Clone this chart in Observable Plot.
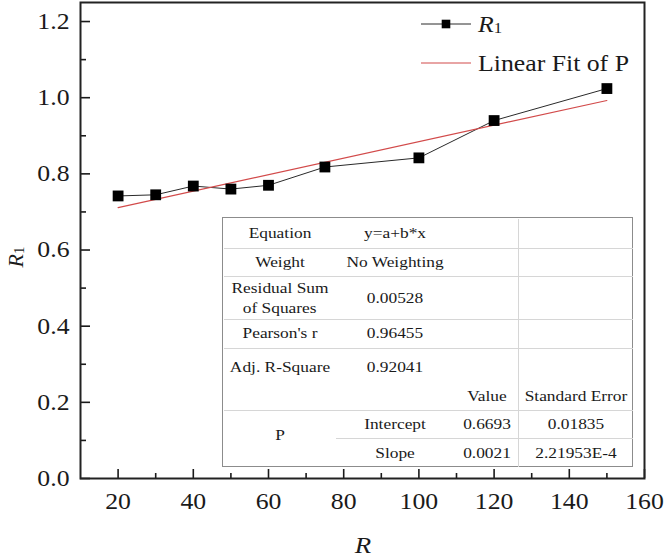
<!DOCTYPE html>
<html><head><meta charset="utf-8">
<script src="https://cdn.jsdelivr.net/npm/d3@7"></script>
<script src="https://cdn.jsdelivr.net/npm/@observablehq/plot@0.6"></script>
<style>
body{margin:0;background:#fff;}
#wrap{position:relative;width:664px;height:559px;font-family:"Liberation Serif","Times New Roman",serif;}
#tbl{position:absolute;left:222px;top:217px;width:411px;height:250px;border:1.5px solid #8c8c8c;box-sizing:border-box;background:#fff;}
.hl,.vl{position:absolute;background:#d6d6d6;}
.cell{position:absolute;transform:translate(-50%,-50%);white-space:nowrap;font-size:15.5px;color:#1a1a1a;text-align:center;line-height:20px;}
.cell span{display:inline-block;transform:scaleX(1.12);}
</style></head><body><div id="wrap"></div>
<script>
// ---- data ----
const R = [20, 30, 40, 50, 60, 75, 100, 120, 150];
const R1 = [0.742, 0.745, 0.768, 0.760, 0.770, 0.818, 0.842, 0.940, 1.024];
const xMajor = [20, 40, 60, 80, 100, 120, 140, 160];
const xMinor = [30, 50, 70, 90, 110, 130, 150];
const yMajor = [0, 0.2, 0.4, 0.6, 0.8, 1.0, 1.2];
const yMinor = [0.1, 0.3, 0.5, 0.7, 0.9, 1.1];
const legendLabels = ["R", "Linear Fit of P"];
const statLabels = ["Equation", "Weight", "Residual Sum\nof Squares", "Pearson's r", "Adj. R-Square"];
const statValues = ["y=a+b*x", "No Weighting", "0.00528", "0.96455", "0.92041"];
const paramHeader = ["Value", "Standard Error"];
const paramGroup = "P";
const paramNames = ["Intercept", "Slope"];
const paramValues = ["0.6693", "0.0021"];
const paramErrors = ["0.01835", "2.21953E-4"];

const data = R.map((r, i) => ({R: r, R1: R1[i]}));
const STRETCH = 1.12;
const FONT = '"Liberation Serif","Times New Roman",serif';

const chart = Plot.plot({
  width: 664, height: 559,
  marginLeft: 80, marginRight: 20, marginTop: 2, marginBottom: 81,
  style: {fontFamily: FONT, color: "#1a1a1a", background: "#fff"},
  x: {domain: [10, 160]},
  y: {domain: [0, 1.25]},
  marks: [
    Plot.axisX({ticks: xMajor, tickSize: 0, tickPadding: 14, fontSize: 23, label: null, tickFormat: d3.format("d")}),
    // inward ticks: draw the outward tick shifted back inside the frame
    Plot.axisX({ticks: xMajor, tickSize: 9, dy: -9, text: null, label: null, strokeWidth: 1.6}),
    Plot.axisX({ticks: xMinor, tickSize: 5, dy: -5, text: null, label: null, strokeWidth: 1.6}),
    Plot.axisY({ticks: yMajor, tickSize: 0, tickPadding: 11, fontSize: 23, label: null, tickFormat: d3.format(".1f")}),
    Plot.axisY({ticks: yMajor, tickSize: 10, dx: 10, text: null, label: null, strokeWidth: 1.6}),
    Plot.axisY({ticks: yMinor, tickSize: 6, dx: 6, text: null, label: null, strokeWidth: 1.6}),
    Plot.line(data, {x: "R", y: "R1", stroke: "#2a2a2a", strokeWidth: 1}),
    Plot.linearRegressionY(data, {x: "R", y: "R1", stroke: "#d24a4a", strokeWidth: 1.2, ci: 0}),
    Plot.dot(data, {x: "R", y: "R1", symbol: "square", r: 6.1, fill: "#000", stroke: null}),
    Plot.frame({stroke: "#222", strokeWidth: 2})
  ]
});

const wrap = document.getElementById("wrap");
wrap.appendChild(chart);
const svg = d3.select(chart);

// legend
const lg = svg.append("g").attr("font-family", FONT).attr("fill", "#1a1a1a").attr("text-anchor", "start");
lg.append("line").attr("x1", 421).attr("x2", 471).attr("y1", 24).attr("y2", 24).attr("stroke", "#2a2a2a").attr("stroke-width", 1);
lg.append("rect").attr("x", 441.7).attr("y", 19.7).attr("width", 8.6).attr("height", 8.6).attr("fill", "#000");
const t1 = lg.append("text").attr("x", 478).attr("y", 32).attr("font-size", 23).attr("text-anchor", "start");
t1.append("tspan").attr("font-style", "italic").text(legendLabels[0]);
t1.append("tspan").attr("font-size", 15).attr("dy", 1).text("1");
lg.append("line").attr("x1", 421).attr("x2", 471).attr("y1", 63).attr("y2", 63).attr("stroke", "#d24a4a").attr("stroke-width", 1.2);
lg.append("text").attr("x", 478).attr("y", 71).attr("font-size", 23).attr("text-anchor", "start").text(legendLabels[1]);

// axis titles
svg.append("text").attr("x", 363).attr("y", 553).attr("text-anchor", "middle")
  .attr("font-family", FONT).attr("font-size", 24).attr("font-style", "italic").attr("fill", "#1a1a1a").text("R");
const yt = svg.append("text").attr("class", "nostretch").attr("transform", "translate(23,257) rotate(-90)")
  .attr("text-anchor", "middle").attr("font-family", FONT).attr("font-size", 22).attr("fill", "#1a1a1a");
yt.append("tspan").attr("font-style", "italic").text("R");
yt.append("tspan").attr("font-size", 15).attr("dy", 1).text("1");

// horizontal stretch of svg text to match reference proportions
svg.selectAll("text").each(function() {
  if (this.classList.contains("nostretch")) return;
  const L = this.getComputedTextLength();
  if (L > 0) {
    this.setAttribute("textLength", L * STRETCH);
    this.setAttribute("lengthAdjust", "spacingAndGlyphs");
  }
});

// statistics table (HTML overlay)
const tbl = document.createElement("div");
tbl.id = "tbl";
wrap.appendChild(tbl);
const L0 = 222, T0 = 217;
function hline(y, x1, x2) {
  const d = document.createElement("div"); d.className = "hl";
  d.style.left = (x1 - L0) + "px"; d.style.top = (y - T0 - 0.5) + "px";
  d.style.width = (x2 - x1) + "px"; d.style.height = "1px"; tbl.appendChild(d);
}
function vline(x, y1, y2) {
  const d = document.createElement("div"); d.className = "vl";
  d.style.left = (x - L0 - 0.5) + "px"; d.style.top = (y1 - T0) + "px";
  d.style.width = "1px"; d.style.height = (y2 - y1) + "px"; tbl.appendChild(d);
}
function cell(txt, cx, cy) {
  const d = document.createElement("div"); d.className = "cell";
  d.style.left = (cx - L0) + "px"; d.style.top = (cy - T0) + "px";
  txt.split("\n").forEach((s, i) => {
    if (i) d.appendChild(document.createElement("br"));
    const sp = document.createElement("span"); sp.textContent = s; d.appendChild(sp);
  });
  tbl.appendChild(d);
}
const rowLines = [247, 275, 318, 347, 409];
rowLines.forEach(y => hline(y, 223, 632));
hline(437, 335, 632);
vline(517, 218, 466);
const rowCenters = [232, 261, 297, 332, 366];
statLabels.forEach((s, i) => { cell(s, 279, rowCenters[i]); cell(statValues[i], 394, rowCenters[i]); });
cell(paramHeader[0], 486, 395);
cell(paramHeader[1], 575, 395);
cell(paramGroup, 279, 434);
paramNames.forEach((s, i) => {
  const cy = [423, 452][i];
  cell(s, 394, cy); cell(paramValues[i], 486, cy); cell(paramErrors[i], 575, cy);
});
</script></body></html>
